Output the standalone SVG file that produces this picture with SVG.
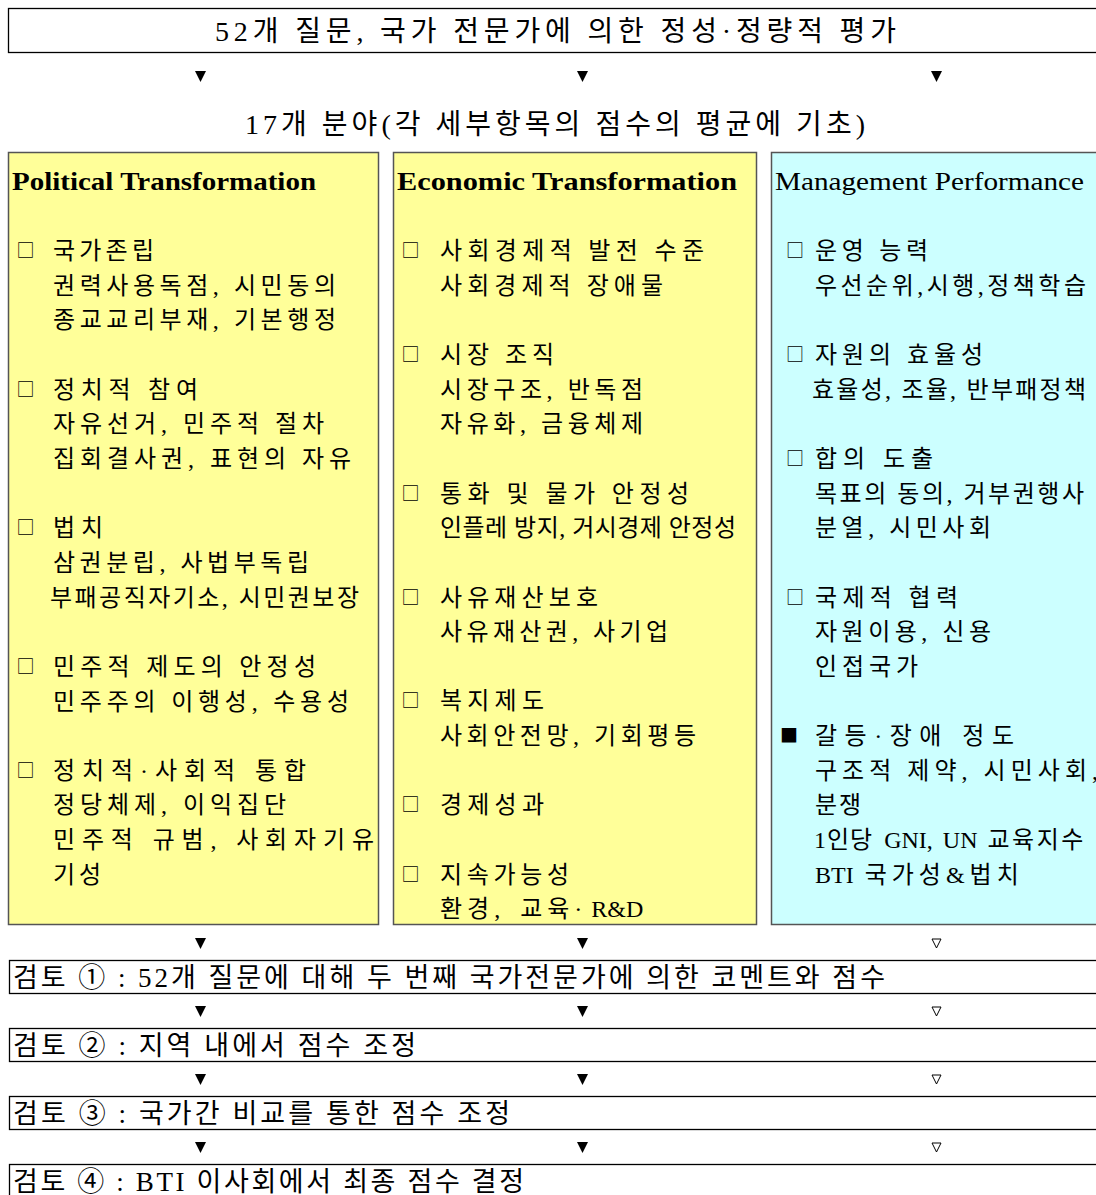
<svg xmlns="http://www.w3.org/2000/svg" width="1096" height="1195" viewBox="0 0 1096 1195">
<style>
.kr{font-family:"Liberation Serif","Noto Sans CJK KR",serif;fill:#000}
.big{font-size:28px}
.rev{font-size:27px}
.item{font-size:24px}
.title{font-family:"Liberation Serif",serif;font-size:26px;font-weight:bold;fill:#000}
.box{fill:#fff;stroke:#000;stroke-width:1.3}
.colY{fill:#ffff99;stroke:#555;stroke-width:1.5}
.colC{fill:#ccffff;stroke:#555;stroke-width:1.5}
.bul{font-family:"Noto Sans CJK KR",sans-serif;font-size:18px;fill:#000}
.arr{fill:#000}
.arrO{fill:#fff;stroke:#000;stroke-width:1}
</style>
<rect width="1096" height="1195" fill="#fff"/>

<g id="top">
<rect class="box" x="8.5" y="8.5" width="1100" height="44"/>
<text class="kr big" x="215" y="41" textLength="681" lengthAdjust="spacing">52개 질문, 국가 전문가에 의한 정성·정량적 평가</text>
</g>

<g id="subtitle">
<text class="kr big" x="245" y="134" textLength="620" lengthAdjust="spacing">17개 분야(각 세부항목의 점수의 평균에 기초)</text>
</g>

<g id="political">
<rect class="colY" x="8.5" y="152.5" width="370" height="772"/>
<text class="title" x="12" y="190" textLength="304" lengthAdjust="spacingAndGlyphs">Political Transformation</text>
<g class="bul" text-anchor="middle">
<text x="25.5" y="257">□</text>
<text x="25.5" y="395.6">□</text>
<text x="25.5" y="534.2">□</text>
<text x="25.5" y="672.8">□</text>
<text x="25.5" y="776.8">□</text>
</g>
<g class="kr item">
<text x="53" y="259" textLength="101" lengthAdjust="spacing">국가존립</text>
<text x="53" y="293.7" textLength="283" lengthAdjust="spacing">권력사용독점, 시민동의</text>
<text x="53" y="328.3" textLength="283" lengthAdjust="spacing">종교교리부재, 기본행정</text>
<text x="53" y="397.6" textLength="145" lengthAdjust="spacing">정치적 참여</text>
<text x="53" y="432.3" textLength="271" lengthAdjust="spacing">자유선거, 민주적 절차</text>
<text x="53" y="466.9" textLength="298" lengthAdjust="spacing">집회결사권, 표현의 자유</text>
<text x="53" y="536.2" textLength="50" lengthAdjust="spacing">법치</text>
<text x="53" y="570.9" textLength="256" lengthAdjust="spacing">삼권분립, 사법부독립</text>
<text x="50" y="605.5" textLength="309" lengthAdjust="spacing">부패공직자기소, 시민권보장</text>
<text x="53" y="674.8" textLength="263" lengthAdjust="spacing">민주적 제도의 안정성</text>
<text x="53" y="709.5" textLength="296" lengthAdjust="spacing">민주주의 이행성, 수용성</text>
<text x="53" y="778.8" textLength="253" lengthAdjust="spacing">정치적·사회적 통합</text>
<text x="53" y="813.4" textLength="233" lengthAdjust="spacing">정당체제, 이익집단</text>
<text x="53" y="848.1" textLength="321" lengthAdjust="spacing">민주적 규범, 사회자기유</text>
<text x="53" y="882.7" textLength="48" lengthAdjust="spacing">기성</text>
</g>
</g>

<g id="economic">
<rect class="colY" x="393.5" y="152.5" width="363" height="772"/>
<text class="title" x="397" y="190" textLength="340" lengthAdjust="spacingAndGlyphs">Economic Transformation</text>
<g class="bul" text-anchor="middle">
<text x="410.5" y="257">□</text>
<text x="410.5" y="360.9">□</text>
<text x="410.5" y="499.5">□</text>
<text x="410.5" y="603.5">□</text>
<text x="410.5" y="707.4">□</text>
<text x="410.5" y="811.4">□</text>
<text x="410.5" y="880.7">□</text>
</g>
<g class="kr item">
<text x="440" y="259" textLength="264" lengthAdjust="spacing">사회경제적 발전 수준</text>
<text x="440" y="293.7" textLength="223" lengthAdjust="spacing">사회경제적 장애물</text>
<text x="440" y="362.9" textLength="114" lengthAdjust="spacing">시장 조직</text>
<text x="440" y="397.6" textLength="203" lengthAdjust="spacing">시장구조, 반독점</text>
<text x="440" y="432.3" textLength="203" lengthAdjust="spacing">자유화, 금융체제</text>
<text x="440" y="501.5" textLength="249" lengthAdjust="spacing">통화 및 물가 안정성</text>
<text x="440" y="536.2" textLength="296" lengthAdjust="spacing">인플레 방지, 거시경제 안정성</text>
<text x="440" y="605.5" textLength="158" lengthAdjust="spacing">사유재산보호</text>
<text x="440" y="640.1" textLength="228" lengthAdjust="spacing">사유재산권, 사기업</text>
<text x="440" y="709.4" textLength="104" lengthAdjust="spacing">복지제도</text>
<text x="440" y="744.1" textLength="256" lengthAdjust="spacing">사회안전망, 기회평등</text>
<text x="440" y="813.4" textLength="104" lengthAdjust="spacing">경제성과</text>
<text x="440" y="882.7" textLength="129" lengthAdjust="spacing">지속가능성</text>
<text x="440" y="917.4"><tspan letter-spacing="5" word-spacing="4">환경, 교육·</tspan><tspan dx="4">R&amp;D</tspan></text>
</g>
</g>

<g id="management">
<rect class="colC" x="771.5" y="152.5" width="340" height="772"/>
<text class="title" x="775" y="190" textLength="309" lengthAdjust="spacingAndGlyphs" style="font-weight:normal">Management Performance</text>
<g class="bul" text-anchor="middle">
<text x="795" y="257">□</text>
<text x="795" y="360.9">□</text>
<text x="795" y="464.9">□</text>
<text x="795" y="603.5">□</text>
<text x="789" y="742">■</text>
</g>
<g class="kr item">
<text x="815" y="259" textLength="113" lengthAdjust="spacing">운영 능력</text>
<text x="815" y="293.7" textLength="271" lengthAdjust="spacing">우선순위,시행,정책학습</text>
<text x="815" y="362.9" textLength="168" lengthAdjust="spacing">자원의 효율성</text>
<text x="812" y="397.6" textLength="274" lengthAdjust="spacing">효율성, 조율, 반부패정책</text>
<text x="815" y="466.9" textLength="118" lengthAdjust="spacing">합의 도출</text>
<text x="815" y="501.5" textLength="269" lengthAdjust="spacing">목표의 동의, 거부권행사</text>
<text x="815" y="536.2" textLength="176" lengthAdjust="spacing">분열, 시민사회</text>
<text x="815" y="605.5" textLength="143" lengthAdjust="spacing">국제적 협력</text>
<text x="815" y="640.1" textLength="176" lengthAdjust="spacing">자원이용, 신용</text>
<text x="815" y="674.8" textLength="103" lengthAdjust="spacing">인접국가</text>
<text x="815" y="744.1" textLength="199" lengthAdjust="spacing">갈등·장애 정도</text>
<text x="815" y="778.8" textLength="283" lengthAdjust="spacing">구조적 제약, 시민사회,</text>
<text x="815" y="813.4" textLength="46" lengthAdjust="spacing">분쟁</text>
<text x="814" y="848.1" word-spacing="4"><tspan letter-spacing="1">1인당 </tspan>GNI, UN <tspan letter-spacing="2.5">교육지수</tspan></text>
<text x="815" y="882.7" word-spacing="5">BTI <tspan letter-spacing="5">국가성&amp;법치</tspan></text>
</g>
</g>

<g id="review1">
<rect class="box" x="9.5" y="960.5" width="1100" height="33"/>
<text class="kr rev" x="13" y="987" textLength="872" lengthAdjust="spacing">검토 ① : 52개 질문에 대해 두 번째 국가전문가에 의한 코멘트와 점수</text>
</g>
<g id="review2">
<rect class="box" x="9.5" y="1028.5" width="1100" height="33"/>
<text class="kr rev" x="13" y="1055" textLength="403" lengthAdjust="spacing">검토 ② : 지역 내에서 점수 조정</text>
</g>
<g id="review3">
<rect class="box" x="9.5" y="1096.5" width="1100" height="33"/>
<text class="kr rev" x="13" y="1123" textLength="497" lengthAdjust="spacing">검토 ③ : 국가간 비교를 통한 점수 조정</text>
</g>
<g id="review4">
<rect class="box" x="9.5" y="1164.5" width="1100" height="40"/>
<text class="kr rev" x="13" y="1191" textLength="511" lengthAdjust="spacing">검토 ④ : BTI 이사회에서 최종 점수 결정</text>
</g>

<g id="connectors">
<polygon class="arr" points="195,71 206,71 200.5,82"/>
<polygon class="arr" points="577,71 588,71 582.5,82"/>
<polygon class="arr" points="931,71 942,71 936.5,82"/>

<polygon class="arr" points="195,938 206,938 200.5,949"/>
<polygon class="arr" points="577,938 588,938 582.5,949"/>
<polygon class="arrO" points="932,939 941,939 936.5,948"/>

<polygon class="arr" points="195,1006 206,1006 200.5,1017"/>
<polygon class="arr" points="577,1006 588,1006 582.5,1017"/>
<polygon class="arrO" points="932,1007 941,1007 936.5,1016"/>

<polygon class="arr" points="195,1074 206,1074 200.5,1085"/>
<polygon class="arr" points="577,1074 588,1074 582.5,1085"/>
<polygon class="arrO" points="932,1075 941,1075 936.5,1084"/>

<polygon class="arr" points="195,1142 206,1142 200.5,1153"/>
<polygon class="arr" points="577,1142 588,1142 582.5,1153"/>
<polygon class="arrO" points="932,1143 941,1143 936.5,1152"/>
</g>
</svg>
